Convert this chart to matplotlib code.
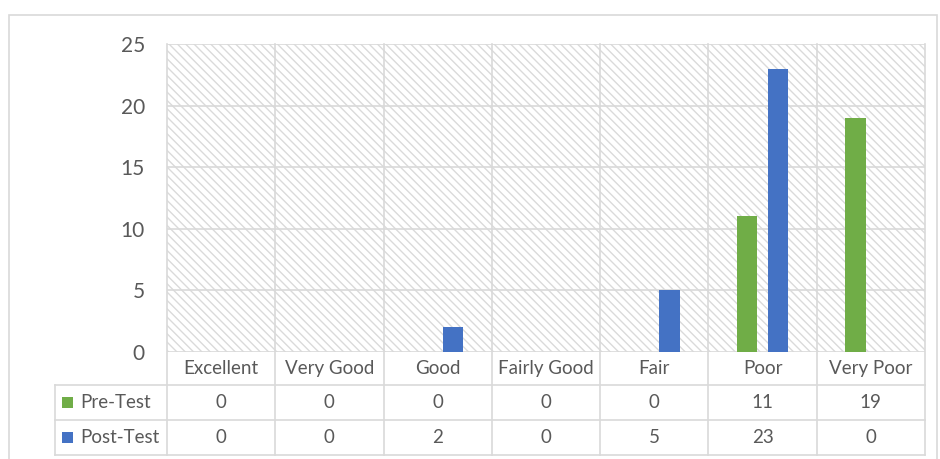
import matplotlib
matplotlib.use('Agg')
import matplotlib.pyplot as plt
import matplotlib.transforms as mtransforms
from matplotlib.patches import Rectangle

categories = ['Excellent', 'Very Good', 'Good', 'Fairly Good', 'Fair', 'Poor', 'Very Poor']
pre_test = [0, 0, 0, 0, 0, 11, 19]
post_test = [0, 0, 2, 0, 5, 23, 0]
series_names = ['Pre-Test', 'Post-Test']
y_ticks = [0, 5, 10, 15, 20, 25]

GREEN = '#70AD47'
BLUE = '#4472C4'
GRID = '#D9D9D9'
TEXT = '#595959'

plt.rcParams['font.family'] = ['Lato', 'DejaVu Sans']
plt.rcParams['hatch.linewidth'] = 1.0

W, H = 940, 459
fig = plt.figure(figsize=(9.4, 4.59), dpi=100)


def fx(px):
    return px / W


def fy(py):
    return 1 - py / H


# outer chart frame (bottom edge runs off the image)
fig.patches.append(Rectangle((fx(9), fy(470)), fx(937) - fx(9), fy(15) - fy(470),
                             transform=fig.transFigure, fill=False,
                             edgecolor=GRID, lw=1.2))

# plot area
PL, PR, PT, PB = 167, 925, 44, 352
ax = fig.add_axes([fx(PL), fy(PB), (PR - PL) / W, (PB - PT) / H])
ax.set_xlim(-0.5, len(categories) - 0.5)
ax.set_ylim(0, 25)
for s in ax.spines.values():
    s.set_visible(False)

# hatched background
ax.add_patch(Rectangle((0, 0), 1, 1, transform=ax.transAxes, facecolor='white',
                       edgecolor='#DADADA', lw=0, hatch='\\\\\\\\', zorder=0))

for yv in y_ticks:
    ax.axhline(yv, color=GRID, lw=1.2, zorder=1)


def ay(py):
    # pixel row -> axes fraction
    return (PB - py) / (PB - PT)


blend = mtransforms.blended_transform_factory(ax.transData, ax.transAxes)
row_lines = [385, 420, 455]
x_left = (55 - PL) / ((PR - PL) / len(categories)) - 0.5

# vertical gridlines carried down through the data table
for i in range(len(categories) + 1):
    b = i - 0.5
    ax.plot([b, b], [ay(row_lines[-1]), 1], transform=blend, color=GRID,
            lw=1.2, clip_on=False, zorder=1)
for py in row_lines:
    ax.plot([x_left, len(categories) - 0.5], [ay(py), ay(py)], transform=blend,
            color=GRID, lw=1.2, clip_on=False, zorder=1)
ax.plot([x_left, x_left], [ay(row_lines[0]), ay(row_lines[-1])], transform=blend,
        color=GRID, lw=1.2, clip_on=False, zorder=1)

# bars
bw = 0.19
xs = list(range(len(categories)))
ax.bar([x - 0.142 for x in xs], pre_test, width=bw, color=GREEN, zorder=3)
ax.bar([x + 0.142 for x in xs], post_test, width=bw, color=BLUE, zorder=3)

ax.set_xticks([])
ax.set_yticks(y_ticks)
ax.tick_params(axis='y', length=0, pad=16, labelsize=15, labelcolor=TEXT)

# data table text
header_y = ay((352 + 385) / 2)
row_y = [ay((385 + 420) / 2), ay((420 + 455) / 2)]
for x, c in zip(xs, categories):
    ax.text(x, header_y, c, transform=blend, ha='center', va='center',
            fontsize=13.5, color=TEXT)
for ry, vals, col, name in zip(row_y, [pre_test, post_test], [GREEN, BLUE], series_names):
    for x, v in zip(xs, vals):
        ax.text(x, ry, str(v), transform=blend, ha='center', va='center',
                fontsize=13.5, color=TEXT)
    sw = 11
    py_center = PB - ry * (PB - PT)
    fig.patches.append(Rectangle((fx(62), fy(py_center + sw / 2)), sw / W, sw / H,
                                 transform=fig.transFigure, facecolor=col, lw=0))
    fig.text(fx(80), fy(py_center), name, ha='left', va='center',
             fontsize=13.5, color=TEXT)

fig.savefig('out.png', dpi=100)
